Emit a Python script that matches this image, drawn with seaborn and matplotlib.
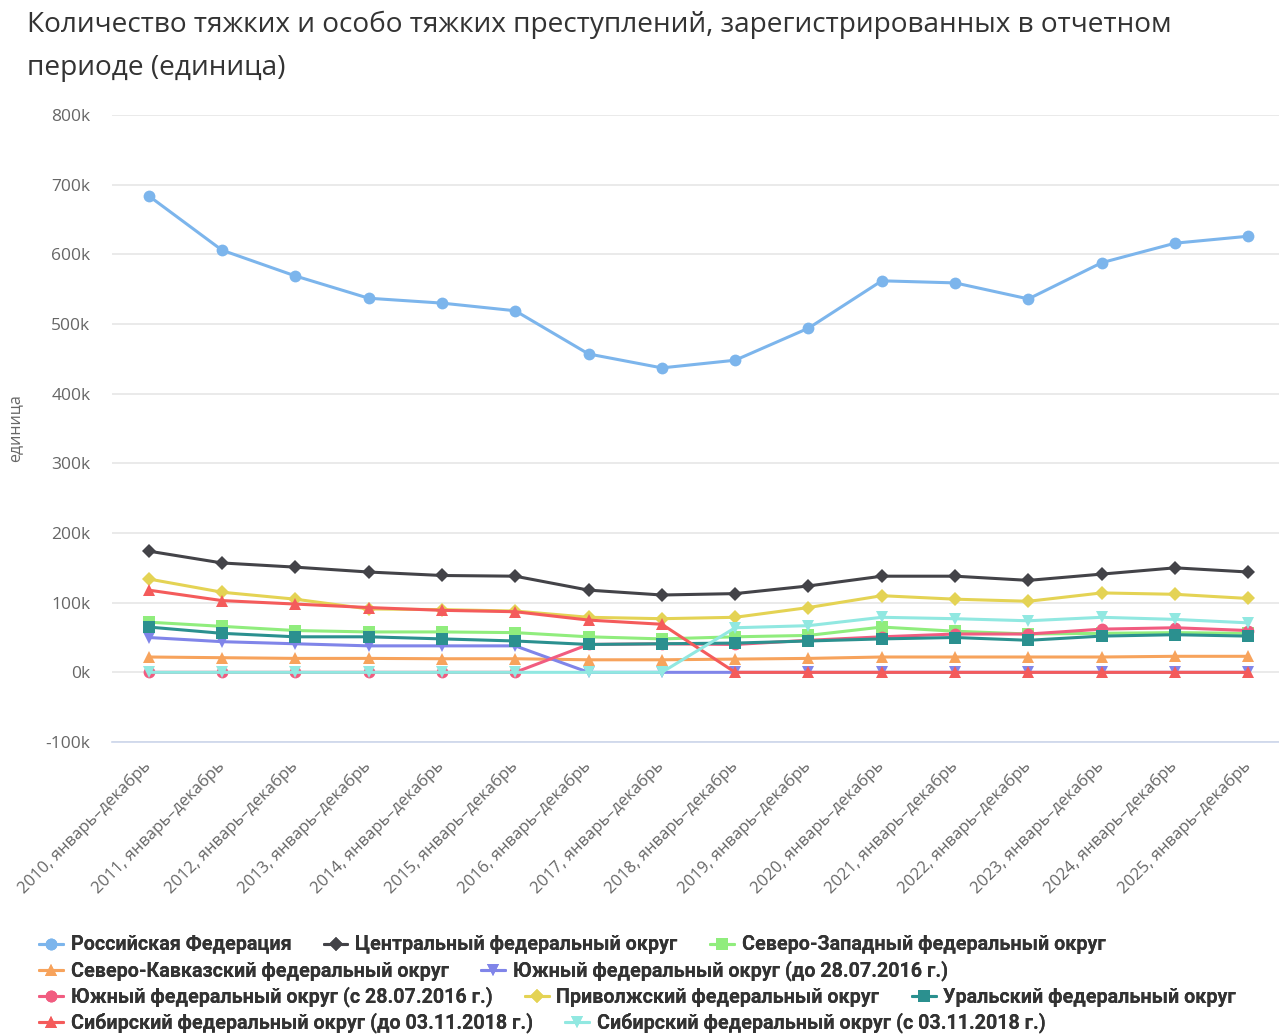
import matplotlib
matplotlib.use("Agg")
import matplotlib.pyplot as plt
import seaborn as sns
import pandas as pd
from matplotlib.ticker import FuncFormatter, FixedLocator

# ---- data -------------------------------------------------------------
periods = [f"{y}, январь–декабрь" for y in range(2010, 2026)]

rf = [684000, 606000, 569000, 537000, 530000, 519000, 457000, 437000,
      448000, 494000, 562000, 559000, 536000, 588000, 616000, 626000]
central = [174000, 157000, 151000, 144000, 139000, 138000, 118000, 111000,
           113000, 124000, 138000, 138000, 132000, 141000, 150000, 144000]
northwest = [72000, 66000, 60000, 58000, 58000, 57000, 51000, 48000,
             51000, 53000, 65000, 59000, 55000, 56000, 57000, 56000]
ncaucasus = [22000, 21000, 20000, 20000, 19500, 19500, 18000, 18000,
             19000, 20000, 22000, 22000, 22000, 22000, 23000, 23000]
south_old = [50000, 44000, 41000, 38000, 38000, 38000, 0, 0,
             0, 0, 0, 0, 0, 0, 0, 0]
south_new = [0, 0, 0, 0, 0, 0, 40000, 41000,
             40000, 46000, 51000, 55000, 55000, 62000, 64000, 60000]
volga = [134000, 115000, 105000, 91000, 90000, 88000, 79000, 77000,
         79000, 93000, 110000, 105000, 102000, 114000, 112000, 106000]
ural = [65000, 56000, 51000, 51000, 48000, 45000, 40000, 41000,
        42000, 45000, 48000, 50000, 46000, 52000, 54000, 52000]
siberia_old = [118000, 103000, 98000, 93000, 89000, 87000, 75000, 69000,
               0, 0, 0, 0, 0, 0, 0, 0]
siberia_new = [0, 0, 0, 0, 0, 0, 0, 0,
               64000, 67000, 79000, 77000, 74000, 79000, 76000, 71000]

series_names = [
    "Российская Федерация",
    "Центральный федеральный округ",
    "Северо-Западный федеральный округ",
    "Северо-Кавказский федеральный округ",
    "Южный федеральный округ (до 28.07.2016 г.)",
    "Южный федеральный округ (с 28.07.2016 г.)",
    "Приволжский федеральный округ",
    "Уральский федеральный округ",
    "Сибирский федеральный округ (до 03.11.2018 г.)",
    "Сибирский федеральный округ (с 03.11.2018 г.)",
]
series_values = [rf, central, northwest, ncaucasus, south_old, south_new,
                 volga, ural, siberia_old, siberia_new]

colors = ["#7cb5ec", "#434348", "#90ed7d", "#f7a35c", "#8085e9",
          "#f15c80", "#e4d354", "#2b908f", "#f45b5b", "#91e8e1"]
markers = ["o", "D", "s", "^", "v", "o", "D", "s", "^", "v"]
marker_sizes = [8.5, 7, 8, 8.5, 8.5, 8.5, 7, 8, 8.5, 8.5]

y_ticks = [-100000, 0, 100000, 200000, 300000, 400000, 500000, 600000,
           700000, 800000]

title_lines = ["Количество тяжких и особо тяжких преступлений, зарегистрированных в отчетном",
               "периоде (единица)"]
y_label = "единица"

# ---- figure -----------------------------------------------------------
sns.set_theme(style="white")
plt.rcParams["font.family"] = ["Open Sans", "DejaVu Sans"]

W, H = 1279, 1035
fig = plt.figure(figsize=(W / 100, H / 100), dpi=100)
fig.patch.set_facecolor("white")

ax_left, ax_right, ax_top, ax_bottom = 112, 1285, 115, 742
ax = fig.add_axes([ax_left / W, 1 - ax_bottom / H,
                   (ax_right - ax_left) / W, (ax_bottom - ax_top) / H])
ax.set_facecolor("white")

x_pos = list(range(len(periods)))
frames = []
for name, vals in zip(series_names, series_values):
    frames.append(pd.DataFrame({"x": x_pos, "value": vals, "series": name}))
df = pd.concat(frames, ignore_index=True)

for i, name in enumerate(series_names):
    sub = df[df["series"] == name]
    sns.lineplot(data=sub, x="x", y="value", ax=ax, color=colors[i],
                 marker=markers[i], markersize=marker_sizes[i],
                 markeredgewidth=0, linewidth=2.2, label=name,
                 zorder=3 + i, legend=False)

ax.set_xlim(-0.5, len(periods) - 0.5)
ax.set_ylim(-100000, 800000)

# y axis: gridlines and "k" labels
ax.yaxis.set_major_locator(FixedLocator(y_ticks))
ax.yaxis.set_major_formatter(FuncFormatter(lambda v, _: f"{int(v / 1000)}k"))
ax.grid(axis="y", color="#e6e6e6", linewidth=1.2)
ax.grid(axis="x", visible=False)
ax.tick_params(axis="y", length=0, pad=15.5, labelsize=12.5,
               labelcolor="#666666")
for s in ["left", "right", "top"]:
    ax.spines[s].set_visible(False)
ax.spines["bottom"].set_color("#ccd6eb")
ax.spines["bottom"].set_linewidth(1.2)

# x axis: labels at category centres, tick marks at boundaries
ax.set_xticks(x_pos)
ax.set_xticklabels(periods, rotation=45, ha="right", va="center",
                   rotation_mode="anchor", fontsize=12, color="#666666")
ax.tick_params(axis="x", which="major", length=0, pad=16)
ax.set_xticks([p - 0.5 for p in x_pos], minor=True)
ax.tick_params(axis="x", which="minor", length=10, width=1.2,
               color="#ccd6eb")

ax.set_xlabel("")
ax.set_ylabel("")
fig.text(15 / W, 1 - 428 / H, y_label, rotation=90, ha="center",
         va="center", fontsize=11.5, color="#666666")

# title
for k, line in enumerate(title_lines):
    fig.text(27 / W, 1 - (25 + 43 * k) / H, line, ha="left", va="center",
             fontsize=20.2, fontweight="medium", color="#333333")

# legend rows, flowing left to right
handles, labels = ax.get_legend_handles_labels()
lookup = dict(zip(labels, handles))
rows = [[0, 1, 2], [3, 4], [5, 6, 7], [8, 9]]
row_y = [945, 971, 997, 1023]
for r, idx in enumerate(rows):
    leg = fig.legend([lookup[series_names[i]] for i in idx],
                     [series_names[i] for i in idx],
                     ncol=len(idx), loc="center left",
                     bbox_to_anchor=(39 / W, 1 - row_y[r] / H),
                     frameon=False, handlelength=1.2, handletextpad=0.4,
                     columnspacing=1.65, borderaxespad=0, borderpad=0,
                     prop={"family": ["Roboto", "DejaVu Sans"],
                           "weight": "bold", "size": 14.2})
    for t in leg.get_texts():
        t.set_color("#333333")
    fig.add_artist(leg)

fig.savefig("out.png", dpi=100, facecolor="white")
